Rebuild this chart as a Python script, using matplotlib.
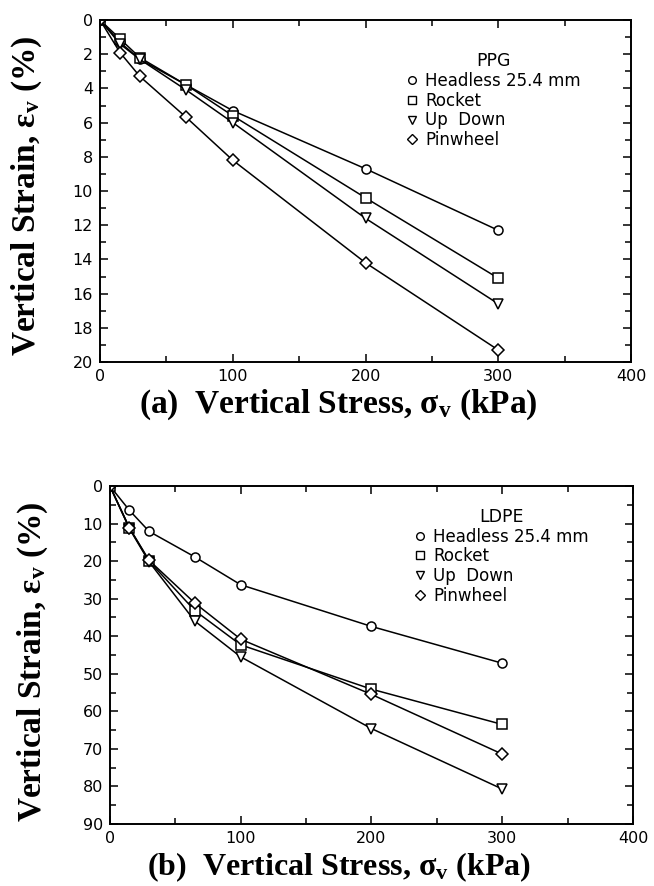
import matplotlib
matplotlib.use("Agg")
import matplotlib.pyplot as plt
from matplotlib.lines import Line2D
from matplotlib.ticker import MultipleLocator

# vertical stress (kPa)
stress = [0, 15, 30, 65, 100, 200, 300]

# (a) PPG, vertical strain (%)
ppg_headless = [0, 1.3, 2.3, 3.8, 5.3, 8.7, 12.3]
ppg_rocket = [0, 1.1, 2.2, 3.8, 5.6, 10.4, 15.1]
ppg_updown = [0, 1.4, 2.3, 4.1, 6.0, 11.6, 16.6]
ppg_pinwheel = [0, 1.9, 3.3, 5.7, 8.2, 14.2, 19.3]

# (b) LDPE, vertical strain (%)
ldpe_headless = [0, 6.5, 12.1, 18.9, 26.3, 37.4, 47.2]
ldpe_rocket = [0, 11.2, 20.0, 33.2, 42.3, 54.1, 63.5]
ldpe_updown = [0, 11.4, 20.2, 36.0, 45.5, 64.6, 80.7]
ldpe_pinwheel = [0, 11.2, 19.8, 31.2, 40.8, 55.5, 71.4]

labels = ["Headless 25.4 mm", "Rocket", "Up  Down", "Pinwheel"]
markers = ["o", "s", "v", "D"]
msizes = [6.5, 6.5, 6.5, 6]

plt.rcParams["font.family"] = ["DejaVu Sans"]
plt.rcParams["mathtext.fontset"] = "custom"
plt.rcParams["mathtext.rm"] = "Liberation Serif:bold"
plt.rcParams["mathtext.bf"] = "Liberation Serif:bold"
plt.rcParams["mathtext.it"] = "Liberation Serif:bold"

serif = "Liberation Serif"


def draw_panel(ax, series, ymax, ymajor, title, leg_xy):
    for vals, m, ms in zip(series, markers, msizes):
        ax.plot(stress, vals, color="black", lw=1.1, marker=m, ms=ms,
                mfc="white", mec="black", mew=1.1)
    ax.set_xlim(0, 400)
    ax.set_ylim(ymax, 0)
    ax.xaxis.set_major_locator(MultipleLocator(100))
    ax.xaxis.set_minor_locator(MultipleLocator(50))
    ax.yaxis.set_major_locator(MultipleLocator(ymajor))
    ax.yaxis.set_minor_locator(MultipleLocator(ymajor / 2))
    ax.tick_params(which="both", direction="in", top=True, right=True,
                   labelsize=11.5, width=1.1)
    ax.tick_params(which="major", length=6, pad=5)
    ax.tick_params(which="minor", length=4)
    for s in ax.spines.values():
        s.set_linewidth(1.4)
    ax.set_ylabel("Vertical Strain, ε$_\\mathregular{v}$ (%)", family=serif,
                  fontsize=24, fontweight="bold")

    handles = [Line2D([], [], ls="none", marker=m, ms=5.5, mfc="white",
                      mec="black", mew=1.0) for m in markers]
    leg = ax.legend(handles, labels, title=title, frameon=False,
                    loc="upper left", bbox_to_anchor=leg_xy, fontsize=12,
                    title_fontsize=12.5, handlelength=0.6, handletextpad=0.5,
                    labelspacing=0.1, borderaxespad=0)
    return leg


fig = plt.figure(figsize=(6.54, 8.86), dpi=100)

ax1 = fig.add_axes([0.153, 0.5914, 0.812, 0.386])
draw_panel(ax1, [ppg_headless, ppg_rocket, ppg_updown, ppg_pinwheel],
           20, 2, "PPG", (0.565, 0.925))
ax1.yaxis.set_label_coords(-0.105, 0.485)
fig.text(338 / 654, 1 - 405 / 886, "(a)  Vertical Stress, σ$_\\mathregular{v}$ (kPa)",
         family=serif, fontsize=24, fontweight="bold", ha="center", va="center")

ax2 = fig.add_axes([0.168, 0.070, 0.80, 0.3815])
draw_panel(ax2, [ldpe_headless, ldpe_rocket, ldpe_updown, ldpe_pinwheel],
           90, 10, "LDPE", (0.57, 0.955))
ax2.yaxis.set_label_coords(-0.115, 0.48)
fig.text(339 / 654, 1 - 867 / 886, "(b)  Vertical Stress, σ$_\\mathregular{v}$ (kPa)",
         family=serif, fontsize=23, fontweight="bold", ha="center", va="center")

fig.savefig("out.png", dpi=100)
